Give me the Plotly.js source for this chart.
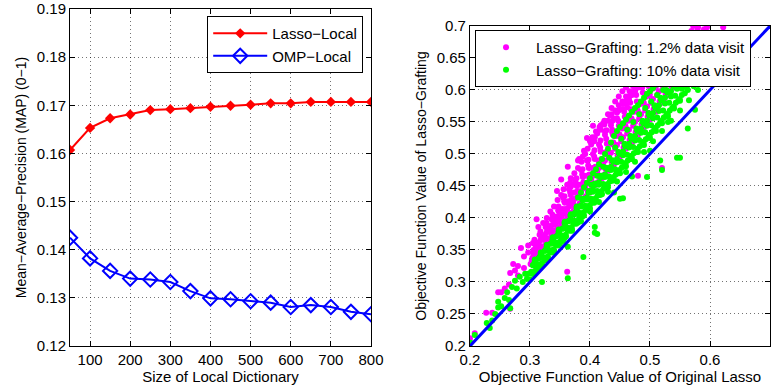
<!DOCTYPE html>
<html>
<head>
<meta charset="utf-8">
<script src="https://cdn.plot.ly/plotly-3.0.1.min.js"></script>
<style>html,body{margin:0;padding:0;background:#fff;}#chart{width:779px;height:387px;}</style>
</head>
<body>
<div id="chart"></div>
<script>
// ---- Left panel data ----
const dictSizes = [50,100,150,200,250,300,350,400,450,500,550,600,650,700,750,800];
const lassoLocal = [0.1607,0.1653,0.1673,0.1681,0.1690,0.1692,0.1694,0.1697,0.1699,0.1701,0.1704,0.1704,0.1707,0.1707,0.1707,0.1707];
const ompLocal = [0.1425,0.1382,0.1356,0.1340,0.1338,0.1333,0.1314,0.1299,0.1297,0.1293,0.1290,0.1281,0.1285,0.1281,0.1271,0.1266];
const leftXTicks = [100,200,300,400,500,600,700,800];
const leftYTicks = [0.12,0.13,0.14,0.15,0.16,0.17,0.18,0.19];

// ---- Right panel data: [original lasso, lasso-grafting] ----
const grafting12a = [
 [0.200,0.212],[0.208,0.220],[0.227,0.252],[0.237,0.252],[0.247,0.284],[0.252,0.284],[0.258,0.290],[0.265,0.296],
 [0.267,0.258],[0.267,0.314],[0.272,0.328],[0.275,0.318],[0.280,0.325],[0.285,0.353],[0.290,0.340],[0.297,0.346],
 [0.297,0.357],[0.305,0.361],[0.311,0.398],[0.314,0.386],[0.280,0.310],[0.290,0.322],[0.362,0.316],[0.480,0.466],[0.520,0.478],
 [0.301,0.328],[0.304,0.338],[0.306,0.350],[0.308,0.344],[0.309,0.358],
 [0.311,0.340],[0.313,0.352],[0.315,0.362],[0.317,0.348],[0.319,0.370],
 [0.321,0.352],[0.322,0.366],[0.325,0.374],[0.327,0.360],[0.329,0.383],
 [0.331,0.364],[0.333,0.378],[0.335,0.388],[0.336,0.372],[0.339,0.396],
 [0.341,0.376],[0.342,0.390],[0.344,0.402],[0.346,0.385],[0.348,0.410],
 [0.350,0.386],[0.352,0.400],[0.354,0.414],[0.356,0.396],[0.358,0.424],
 [0.360,0.397],[0.362,0.412],[0.363,0.480],[0.364,0.426],[0.366,0.406],[0.368,0.436],[0.367,0.455],
 [0.370,0.408],[0.372,0.424],[0.372,0.452],[0.374,0.440],[0.376,0.418],[0.378,0.450],
 [0.380,0.418],[0.382,0.436],[0.384,0.452],[0.386,0.430],[0.388,0.464],
 [0.390,0.430],[0.392,0.448],[0.394,0.466],[0.396,0.442],[0.398,0.478],
 [0.400,0.440],[0.402,0.460],[0.404,0.478],[0.405,0.544],[0.406,0.452],[0.407,0.520],[0.408,0.492],
 [0.410,0.452],[0.412,0.472],[0.414,0.490],[0.416,0.464],[0.418,0.504],
 [0.420,0.462],[0.422,0.484],[0.424,0.502],[0.426,0.476],[0.428,0.516],[0.428,0.503],
 [0.430,0.474],[0.432,0.496],[0.434,0.516],[0.436,0.488],[0.438,0.530],
 [0.440,0.484],[0.442,0.508],[0.444,0.528],[0.446,0.498],[0.448,0.544],
 [0.450,0.496],[0.452,0.520],[0.454,0.540],[0.456,0.510],[0.458,0.558],
 [0.460,0.508],[0.461,0.581],[0.462,0.532],[0.462,0.573],[0.464,0.552],[0.466,0.522],[0.468,0.570],
 [0.470,0.518],[0.472,0.544],[0.474,0.566],[0.476,0.534],[0.478,0.582],
 [0.480,0.530],[0.482,0.556],[0.484,0.578],[0.486,0.546],[0.488,0.596],[0.488,0.616],
 [0.490,0.542],[0.492,0.568],[0.494,0.590],[0.496,0.558],[0.498,0.606],
 [0.500,0.554],[0.500,0.620],[0.502,0.580],[0.504,0.602],[0.506,0.570],[0.508,0.620],
 [0.510,0.566],[0.512,0.592],[0.514,0.614],[0.516,0.582],[0.518,0.630],
 [0.520,0.580],[0.522,0.604],[0.524,0.626],[0.526,0.594],[0.528,0.640],
 [0.530,0.592],[0.530,0.630],[0.532,0.616],[0.534,0.636],[0.536,0.606],[0.538,0.652],
 [0.540,0.604],[0.542,0.628],[0.544,0.648],[0.546,0.618],[0.548,0.664],
 [0.550,0.618],[0.553,0.640],[0.556,0.660],[0.558,0.630],
 [0.561,0.652],[0.564,0.672],[0.567,0.645],
 [0.571,0.665],[0.575,0.682],[0.578,0.660],
 [0.582,0.690],[0.586,0.675],[0.590,0.695],
 [0.572,0.700],[0.580,0.698],[0.595,0.698],[0.600,0.688],[0.622,0.698]
];
const grafting12b = [
 [0.303,0.333],[0.305,0.346],[0.307,0.360],[0.309,0.352],
 [0.312,0.345],[0.314,0.358],[0.316,0.374],[0.318,0.366],
 [0.323,0.356],[0.324,0.370],[0.326,0.386],[0.328,0.378],
 [0.332,0.368],[0.334,0.382],[0.336,0.398],[0.338,0.390],
 [0.343,0.379],[0.345,0.394],[0.347,0.412],[0.349,0.402],
 [0.353,0.390],[0.355,0.406],[0.357,0.426],[0.359,0.414],
 [0.363,0.401],[0.365,0.418],[0.367,0.440],[0.369,0.428],
 [0.373,0.412],[0.375,0.430],[0.377,0.454],[0.379,0.442],
 [0.383,0.423],[0.385,0.442],[0.387,0.468],[0.389,0.456],
 [0.393,0.434],[0.395,0.454],[0.397,0.482],[0.399,0.468],
 [0.403,0.445],[0.405,0.466],[0.407,0.496],[0.409,0.480],
 [0.413,0.456],[0.415,0.478],[0.417,0.510],[0.419,0.492],
 [0.423,0.467],[0.425,0.490],[0.427,0.524],[0.429,0.505],
 [0.433,0.478],[0.435,0.502],[0.437,0.538],[0.439,0.518],
 [0.443,0.489],[0.445,0.514],[0.447,0.552],[0.449,0.531],
 [0.453,0.500],[0.455,0.526],[0.457,0.566],[0.459,0.544],
 [0.463,0.512],[0.465,0.538],[0.467,0.580],[0.469,0.556],
 [0.473,0.524],[0.475,0.550],[0.477,0.592],[0.479,0.568],
 [0.483,0.536],[0.485,0.562],[0.487,0.604],[0.489,0.580],
 [0.493,0.548],[0.495,0.574],[0.497,0.616],[0.499,0.592],
 [0.503,0.560],[0.505,0.586],[0.507,0.628],[0.509,0.604],
 [0.513,0.572],[0.515,0.598],[0.517,0.640],[0.519,0.616],
 [0.523,0.584],[0.525,0.610],[0.527,0.652],[0.529,0.628],
 [0.533,0.596],[0.535,0.622],[0.537,0.664],[0.539,0.640],
 [0.543,0.608],[0.545,0.634],[0.547,0.676],[0.549,0.652],
 [0.552,0.622],[0.555,0.648],[0.557,0.686],[0.559,0.664],
 [0.563,0.636],[0.566,0.660],[0.569,0.692],
 [0.573,0.648],[0.576,0.672],[0.579,0.694],
 [0.584,0.662],[0.588,0.684]
];
const grafting12c = [
 [0.3075,0.366],[0.3095,0.341],[0.3175,0.379],[0.3195,0.355],[0.3275,0.392],[0.3295,0.368],
 [0.3375,0.405],[0.3395,0.381],[0.3475,0.418],[0.3495,0.394],[0.3575,0.434],[0.3595,0.407],
 [0.3675,0.448],[0.3695,0.420],[0.3775,0.462],[0.3795,0.434],[0.3875,0.476],[0.3895,0.447],
 [0.3975,0.491],[0.3995,0.460],[0.4075,0.506],[0.4095,0.474],[0.4175,0.521],[0.4195,0.487],
 [0.4275,0.537],[0.4295,0.501],[0.4375,0.552],[0.4395,0.514],[0.4475,0.568],[0.4495,0.528],
 [0.4575,0.580],[0.4595,0.541],[0.4675,0.592],[0.4695,0.554],[0.4775,0.604],[0.4795,0.567],
 [0.4875,0.616],[0.4895,0.580],[0.4975,0.628],[0.4995,0.593],[0.5075,0.640],[0.5095,0.606],
 [0.5175,0.652],[0.5195,0.619],[0.5275,0.632],[0.5375,0.645]
];
const grafting12d = [
 [0.322,0.392],[0.328,0.400],[0.334,0.410],[0.340,0.418],[0.346,0.428],[0.352,0.436],[0.356,0.445],
 [0.362,0.452],[0.368,0.462],[0.374,0.470],[0.380,0.478],[0.386,0.488],[0.392,0.500],[0.396,0.508],
 [0.402,0.515],[0.408,0.526],[0.412,0.532],[0.418,0.538],[0.424,0.546],[0.430,0.552],[0.436,0.562],
 [0.442,0.568],[0.448,0.576],[0.454,0.582],[0.460,0.590],[0.466,0.598],[0.472,0.606],[0.478,0.612],
 [0.484,0.620],[0.490,0.628],
 [0.355,0.432],[0.365,0.445],[0.375,0.460],[0.385,0.475],[0.395,0.490],[0.405,0.500],[0.415,0.515],
 [0.425,0.530],[0.435,0.545],[0.445,0.556],[0.455,0.570],[0.465,0.585],[0.475,0.598],
 [0.345,0.442],[0.352,0.460],[0.380,0.490],[0.395,0.525],[0.433,0.560]
];
const grafting12e = [
 [0.418,0.545],[0.424,0.552],[0.430,0.562],[0.436,0.572],[0.442,0.582],[0.448,0.590],[0.454,0.598],
 [0.460,0.604],[0.466,0.610],[0.472,0.614],[0.478,0.618],
 [0.425,0.535],[0.435,0.550],[0.445,0.565],[0.455,0.578],[0.465,0.590],[0.475,0.600],
 [0.440,0.555],[0.450,0.570],[0.460,0.582],[0.470,0.592],[0.480,0.604],[0.490,0.612],
 [0.470,0.566],[0.422,0.548],[0.437,0.534],
 [0.382,0.492],[0.390,0.505],[0.400,0.520],[0.410,0.535],[0.416,0.542],[0.388,0.496],[0.404,0.526]
];
const grafting10a = [
 [0.201,0.205],[0.208,0.217],[0.228,0.236],[0.233,0.228],[0.237,0.240],[0.242,0.250],[0.247,0.260],[0.247,0.269],
 [0.252,0.262],[0.258,0.275],[0.262,0.284],[0.265,0.272],[0.267,0.259],[0.270,0.292],[0.275,0.302],[0.278,0.290],
 [0.283,0.308],[0.288,0.300],[0.292,0.313],[0.297,0.313],[0.295,0.305],[0.320,0.300],[0.363,0.306],[0.363,0.355],
 [0.389,0.339],[0.408,0.386],[0.408,0.377],[0.412,0.375],[0.455,0.431],[0.450,0.430],[0.545,0.494],[0.550,0.494],
 [0.520,0.475],[0.517,0.490],[0.495,0.464],[0.575,0.569],[0.563,0.540],[0.470,0.465],[0.500,0.505],[0.530,0.550],[0.440,0.440],
 [0.300,0.304],[0.302,0.316],[0.305,0.326],[0.307,0.312],[0.309,0.332],
 [0.310,0.316],[0.312,0.328],[0.315,0.338],[0.317,0.322],[0.319,0.344],
 [0.320,0.327],[0.322,0.339],[0.325,0.349],[0.327,0.334],[0.329,0.356],
 [0.330,0.338],[0.332,0.350],[0.335,0.360],[0.337,0.346],[0.339,0.368],
 [0.340,0.349],[0.342,0.362],[0.345,0.372],[0.347,0.357],[0.349,0.380],
 [0.350,0.360],[0.352,0.373],[0.355,0.384],[0.357,0.368],[0.359,0.392],
 [0.360,0.371],[0.362,0.385],[0.365,0.396],[0.367,0.380],[0.369,0.404],
 [0.370,0.382],[0.372,0.396],[0.375,0.408],[0.377,0.391],[0.379,0.416],
 [0.380,0.393],[0.382,0.408],[0.385,0.420],[0.387,0.402],[0.389,0.428],
 [0.390,0.404],[0.392,0.419],[0.395,0.432],[0.397,0.413],[0.399,0.440],
 [0.400,0.415],[0.402,0.430],[0.405,0.444],[0.407,0.424],[0.409,0.452],
 [0.410,0.426],[0.412,0.442],[0.415,0.456],[0.417,0.436],[0.419,0.464],
 [0.420,0.437],[0.422,0.453],[0.425,0.468],[0.427,0.447],[0.429,0.476],
 [0.430,0.448],[0.432,0.465],[0.435,0.480],[0.437,0.458],[0.439,0.488],
 [0.440,0.459],[0.442,0.476],[0.445,0.492],[0.447,0.470],[0.449,0.500],
 [0.450,0.470],[0.452,0.488],[0.455,0.504],[0.457,0.481],[0.459,0.512],
 [0.460,0.481],[0.462,0.499],[0.465,0.516],[0.467,0.492],[0.469,0.524],
 [0.470,0.492],[0.472,0.511],[0.475,0.528],[0.477,0.503],[0.479,0.536],
 [0.480,0.503],[0.482,0.522],[0.485,0.540],[0.487,0.515],[0.489,0.548],
 [0.490,0.514],[0.492,0.534],[0.495,0.552],[0.497,0.526],[0.499,0.560],
 [0.500,0.525],[0.502,0.545],[0.505,0.564],[0.507,0.538],[0.509,0.572],
 [0.510,0.536],[0.512,0.557],[0.515,0.576],[0.517,0.549],[0.519,0.584],
 [0.520,0.548],[0.522,0.568],[0.525,0.588],[0.527,0.560],[0.529,0.596],
 [0.530,0.559],[0.532,0.580],[0.535,0.598],[0.537,0.572],[0.539,0.606],
 [0.540,0.571],[0.542,0.591],[0.545,0.608],[0.547,0.583],
 [0.550,0.583],[0.553,0.602],[0.556,0.618],[0.558,0.595],
 [0.561,0.604],[0.564,0.620],[0.567,0.610],
 [0.571,0.612],[0.575,0.624],[0.578,0.615],
 [0.582,0.618],[0.586,0.626],[0.589,0.622]
];
const grafting10b = [
 [0.303,0.313],[0.305,0.326],[0.308,0.335],
 [0.313,0.324],[0.315,0.337],[0.318,0.346],
 [0.323,0.336],[0.325,0.349],[0.328,0.358],
 [0.333,0.347],[0.335,0.360],[0.338,0.370],
 [0.343,0.358],[0.345,0.372],[0.348,0.382],
 [0.353,0.369],[0.355,0.383],[0.358,0.394],
 [0.363,0.380],[0.365,0.395],[0.368,0.406],
 [0.373,0.391],[0.375,0.406],[0.378,0.418],
 [0.383,0.402],[0.385,0.418],[0.388,0.430],
 [0.393,0.413],[0.395,0.429],[0.398,0.442],
 [0.403,0.424],[0.405,0.441],[0.408,0.454],
 [0.413,0.435],[0.415,0.452],[0.418,0.466],
 [0.423,0.446],[0.425,0.464],[0.428,0.478],
 [0.433,0.457],[0.435,0.475],[0.438,0.490],
 [0.443,0.468],[0.445,0.487],[0.448,0.502],
 [0.453,0.479],[0.455,0.498],[0.458,0.514],
 [0.463,0.490],[0.465,0.510],[0.468,0.526],
 [0.473,0.501],[0.475,0.521],[0.478,0.538],
 [0.483,0.512],[0.485,0.533],[0.488,0.550],
 [0.493,0.523],[0.495,0.544],[0.498,0.562],
 [0.503,0.534],[0.505,0.556],[0.508,0.574],
 [0.513,0.545],[0.515,0.567],[0.518,0.586],
 [0.523,0.557],[0.525,0.579],[0.528,0.598],
 [0.533,0.568],[0.535,0.590],[0.538,0.610],
 [0.543,0.580],[0.545,0.602],[0.548,0.618],
 [0.553,0.592],[0.555,0.612],[0.558,0.622],
 [0.563,0.600],[0.566,0.616],
 [0.573,0.606],[0.577,0.620]
];
const grafting10c = [
 [0.3075,0.330],[0.3095,0.318],[0.3175,0.342],[0.3195,0.329],[0.3275,0.354],[0.3295,0.340],
 [0.3375,0.366],[0.3395,0.351],[0.3475,0.378],[0.3495,0.363],[0.3575,0.392],[0.3595,0.374],
 [0.3675,0.404],[0.3695,0.386],[0.3775,0.416],[0.3795,0.397],[0.3875,0.428],[0.3895,0.409],
 [0.3975,0.440],[0.3995,0.420],[0.4075,0.452],[0.4095,0.431],[0.4175,0.465],[0.4195,0.442],
 [0.4275,0.478],[0.4295,0.453],[0.4375,0.490],[0.4395,0.464],[0.4475,0.503],[0.4495,0.475],
 [0.4575,0.516],[0.4595,0.486],[0.4675,0.528],[0.4695,0.497],[0.4775,0.540],[0.4795,0.508],
 [0.4875,0.552],[0.4895,0.519],[0.4975,0.564],[0.4995,0.530],[0.5075,0.576],[0.5095,0.541],
 [0.5175,0.588],[0.5195,0.552],[0.5275,0.600],[0.5295,0.563],[0.5375,0.610],[0.5395,0.574],
 [0.5475,0.618],[0.5495,0.586]
];
const grafting10d = [
 [0.310,0.318],[0.325,0.334],[0.340,0.349],[0.355,0.364],[0.370,0.380],[0.385,0.395],[0.400,0.410],
 [0.415,0.425],[0.430,0.441],[0.445,0.457],[0.460,0.472],[0.475,0.488],[0.490,0.503],[0.505,0.520],
 [0.520,0.536],[0.535,0.552],[0.550,0.568],[0.565,0.584],[0.580,0.600]
];
const grafting10e = [
 [0.380,0.432],[0.385,0.440],[0.390,0.448],[0.395,0.455],
 [0.400,0.462],[0.405,0.470],[0.410,0.476],[0.415,0.484],[0.420,0.492],[0.425,0.500],[0.430,0.508],
 [0.435,0.518],[0.440,0.528],[0.445,0.536],[0.450,0.542],[0.455,0.548],[0.460,0.554],[0.465,0.560],
 [0.470,0.566],[0.475,0.572],[0.480,0.576],[0.485,0.582],[0.490,0.588],[0.495,0.594],[0.500,0.598],
 [0.505,0.603],[0.510,0.608],[0.515,0.612],[0.520,0.616],
 [0.402,0.452],[0.412,0.466],[0.422,0.480],[0.432,0.494],[0.442,0.510],[0.452,0.524],[0.462,0.538],
 [0.472,0.550],[0.482,0.562],[0.492,0.572],[0.502,0.582],[0.512,0.592],[0.522,0.600]
];
const grafting12 = grafting12a.concat(grafting12b, grafting12c, grafting12d, grafting12e);
const grafting10 = grafting10a.concat(grafting10b, grafting10c, grafting10d, grafting10e);
const diagX = [0.2,0.7];
const diagY = [0.2,0.7];
const rightTicksX = [0.2,0.3,0.4,0.5,0.6,0.7];
const rightTicksY = [0.2,0.25,0.3,0.35,0.4,0.45,0.5,0.55,0.6,0.65,0.7];

const FONT = 'Liberation Sans, Arial, Helvetica, sans-serif';
const gridCol = 'rgba(0,0,0,0.55)';
function axisBase(extra){
  return Object.assign({
    showline:true, linecolor:'#000', linewidth:1, mirror:'ticks',
    ticks:'inside', ticklen:5, tickcolor:'#000', tickwidth:1,
    showgrid:true, gridcolor:gridCol, gridwidth:1, griddash:'1px,3px',
    zeroline:false, tickfont:{family:FONT,size:15,color:'#000'}, automargin:false
  }, extra);
}

const traces = [
  {x:dictSizes, y:lassoLocal, name:'Lasso\u2212Local', type:'scatter', mode:'lines+markers',
   line:{color:'#ff0000',width:2}, marker:{symbol:'diamond',size:8,color:'#ff0000'}, xaxis:'x', yaxis:'y', legend:'legend'},
  {x:dictSizes, y:ompLocal, name:'OMP\u2212Local', type:'scatter', mode:'lines+markers',
   line:{color:'#0000ff',width:2}, marker:{symbol:'diamond-open',size:11,color:'#0000ff',line:{width:2,color:'#0000ff'}}, xaxis:'x', yaxis:'y', legend:'legend'},
  {x:grafting12.map(p=>p[0]), y:grafting12.map(p=>p[1]), name:'Lasso\u2212Grafting: 1.2% data visit', type:'scatter', mode:'markers',
   marker:{color:'#ff00ff',size:6}, xaxis:'x2', yaxis:'y2', legend:'legend2'},
  {x:grafting10.map(p=>p[0]), y:grafting10.map(p=>p[1]), name:'Lasso\u2212Grafting: 10% data visit', type:'scatter', mode:'markers',
   marker:{color:'#00ff00',size:6}, xaxis:'x2', yaxis:'y2', legend:'legend2'},
  {x:diagX, y:diagY, type:'scatter', mode:'lines', line:{color:'#0000ff',width:3}, showlegend:false, xaxis:'x2', yaxis:'y2', hoverinfo:'skip'}
];

const layout = {
  width:779, height:387,
  margin:{l:70,r:9,t:9,b:41},
  paper_bgcolor:'#fff', plot_bgcolor:'#fff',
  font:{family:FONT,size:15,color:'#000'},
  showlegend:true,
  xaxis: axisBase({domain:[0,0.43], range:[50,800], tickvals:leftXTicks, anchor:'y',
    title:{text:'Size of Local Dictionary', font:{family:FONT,size:15}, standoff:4}}),
  yaxis: axisBase({domain:[0,1], range:[0.12,0.19], tickvals:leftYTicks, tickformat:'.2f', anchor:'x',
    title:{text:'Mean\u2212Average\u2212Precision (MAP) (0\u22121)', font:{family:FONT,size:14}, standoff:6}}),
  xaxis2: axisBase({domain:[0.5714,1], range:[0.2,0.7], tickvals:rightTicksX, anchor:'y2',
    title:{text:'Objective Function Value of Original Lasso', font:{family:FONT,size:15}, standoff:4}}),
  yaxis2: axisBase({domain:[0,0.9496], range:[0.2,0.7], tickvals:rightTicksY, anchor:'x2',
    title:{text:'Objective Function Value of Lasso\u2212Grafting', font:{family:FONT,size:14}, standoff:6}}),
  legend:{x:0.196, y:0.979, xanchor:'left', yanchor:'top', bgcolor:'#fff', bordercolor:'#000', borderwidth:1,
    font:{family:FONT,size:15}, tracegroupgap:0, itemwidth:54},
  legend2:{x:0.5786, y:0.9377, xanchor:'left', yanchor:'top', bgcolor:'#fff', bordercolor:'#000', borderwidth:1,
    font:{family:FONT,size:15}, tracegroupgap:0, itemwidth:50}
};

Plotly.newPlot('chart', traces, layout, {displayModeBar:false, staticPlot:true});
</script>
</body>
</html>
